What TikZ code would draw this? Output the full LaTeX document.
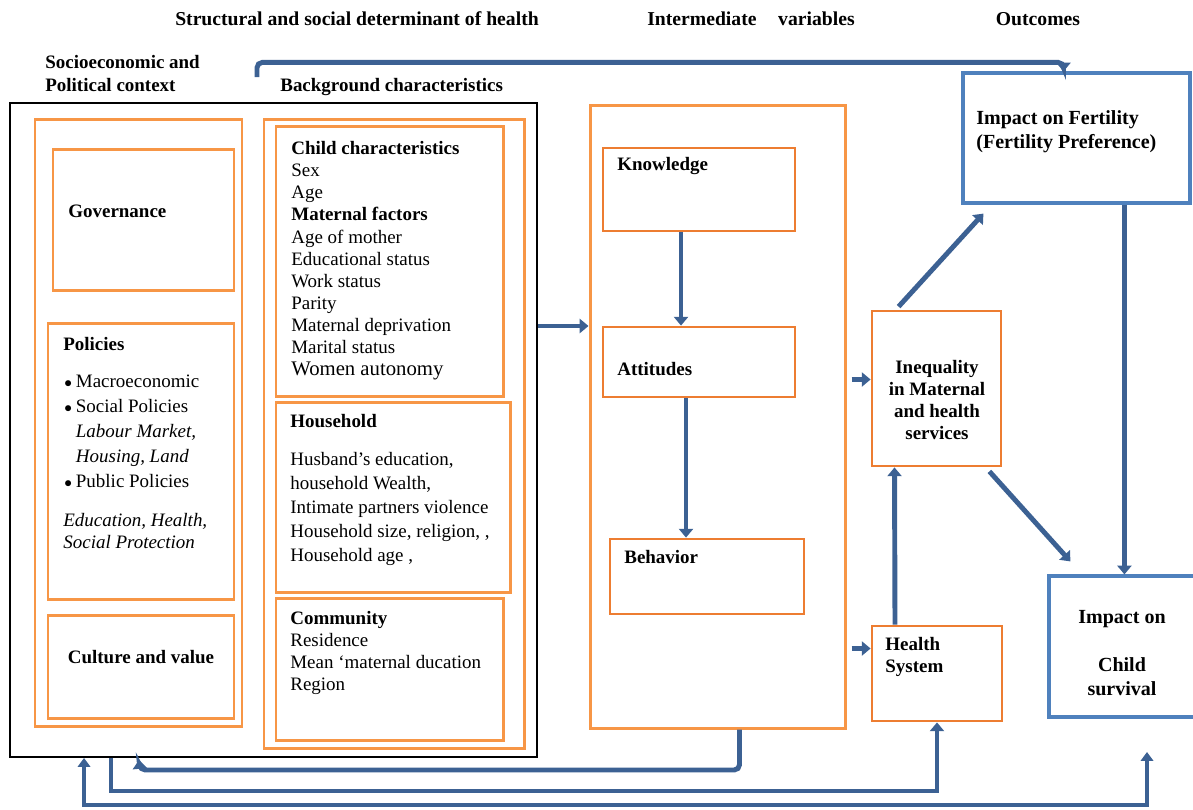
\documentclass[tikz,border=0pt]{standalone}
\usepackage{fontspec}
\setmainfont{Liberation Serif}
\usetikzlibrary{positioning,arrows.meta,fit,calc}
\definecolor{frameorange}{HTML}{F79646}
\definecolor{framedark}{HTML}{ED7D31}
\definecolor{frameblue}{HTML}{4F81BD}
\definecolor{linkblue}{HTML}{3C6193}
\newcommand{\bodyfont}{\fontsize{10.8}{12.6}\selectfont}
\newcommand{\dotitem}{\makebox[6.6pt][l]{\raisebox{0.2pt}{\scalebox{0.8}{$\bullet$}}}}

\begin{document}
\begin{tikzpicture}[
  x=0.02cm, y=-0.02cm,
  font=\bodyfont,
  obox/.style={draw=frameorange, line width=1.7pt, inner sep=0pt},
  dbox/.style={draw=framedark, line width=1.6pt, inner sep=0pt},
  bbox/.style={draw=frameblue, line width=1.8pt, inner sep=0pt},
  hd/.style={font=\bodyfont\bfseries, inner sep=0pt},
  txt/.style={align=left, anchor=north west, inner sep=0pt},
  arr/.style={draw=linkblue, line width=2.8pt, -{Triangle[length=5pt, width=8pt]}},
]
\useasboundingbox (0,0) rectangle (1193,809);

% Headings
\node[hd, font=\fontsize{11.2}{13}\selectfont\bfseries] (hstruct) at (357,19) {Structural and social determinant of health};
\node[hd, font=\fontsize{11.2}{13}\selectfont\bfseries] (hinter) at (751,19) {Intermediate\hspace{1.1em}variables};
\node[hd, font=\fontsize{11.2}{13}\selectfont\bfseries] (hout) at (1038,19) {Outcomes};
\node[hd, txt, font=\fontsize{10.8}{13}\selectfont\bfseries] (hsocio) at (45,55) {Socioeconomic and\\Political context};
\node[hd, anchor=west] (hback) at (280,87) {Background characteristics};

% Socioeconomic and political context
\node[draw, line width=1.1pt, inner sep=0pt, fit={(10,103) (537,757)}] (ctx) {};
\node[obox, fit={(35,119) (242,726)}] (lcol) {};
\node[obox, fit={(53,149) (234,290)}] (gov) {};
\node[hd, anchor=west] (govt) at (68,211) {Governance};
\node[obox, fit={(48,323) (234,599)}] (pol) {};
\node[hd, anchor=west] (polt) at (63,344) {Policies};
\node[txt, font=\fontsize{10.8}{14.2}\selectfont] (poll) at (64,375) {%
  \dotitem Macroeconomic\\
  \dotitem Social Policies\\
  \hphantom{\dotitem}\textit{Labour Market,}\\
  \hphantom{\dotitem}\textit{Housing, Land}\\
  \dotitem Public Policies};
\node[txt, font=\bodyfont\itshape] (pole) at (63,513) {Education, Health,\\Social Protection};
\node[obox, fit={(48,615) (234,718)}] (cul) {};
\node[hd] (cult) at (141,657) {Culture and value};

% Background characteristics
\node[obox, fit={(264,119) (524,748)}] (mcol) {};
\node[obox, fit={(276,126) (503,396)}] (chi) {};
\node[txt] (chit) at (291,141) {\textbf{Child characteristics}\\Sex\\Age\\\textbf{Maternal factors}\\
  Age of mother\\Educational status\\Work status\\Parity\\Maternal deprivation\\Marital status\\
  {\fontsize{11.8}{12.6}\selectfont Women autonomy}};
\node[obox, fit={(276,402) (510,592)}] (hh) {};
\node[hd, anchor=west] (hht) at (290,421) {Household};
\node[txt, font=\fontsize{10.8}{13.6}\selectfont] (hhl) at (290,452) {Husband’s education,\\household Wealth,\\
  Intimate partners violence\\Household size, religion, ,\\Household age ,};
\node[obox, fit={(276,598) (503,740)}] (com) {};
\node[txt] (comt) at (290,611) {\textbf{Community}\\Residence\\Mean ‘maternal ducation\\Region};

% Intermediate variables
\node[obox, fit={(590,105) (845,728)}] (inter) {};
\node[dbox, fit={(603,148) (795,231)}] (know) {};
\node[hd, anchor=west] (knowt) at (617,166) {Knowledge};
\node[dbox, fit={(603,327) (795,397)}] (att) {};
\node[hd, anchor=west] (attt) at (617,369) {Attitudes};
\node[dbox, fit={(610,539) (804,614)}] (beh) {};
\node[hd, anchor=west] (beht) at (624,557) {Behavior};

% Services
\node[dbox, fit={(872,311) (1001,466)}] (ineq) {};
\node[hd, align=center] (ineqt) at (937,400) {Inequality\\in Maternal\\and health\\services};
\node[dbox, fit={(872,626) (1002,721)}] (hs) {};
\node[hd, txt] (hst) at (885,637) {Health\\System};

% Outcomes
\node[bbox, fit={(963,73) (1190,203)}] (fert) {};
\node[hd, txt, font=\fontsize{11.4}{13.6}\selectfont\bfseries] (fertt) at (976,110) {Impact on Fertility\\(Fertility Preference)};
\node[bbox, fit={(1049,576) (1195,717)}] (child) {};
\node[hd, align=center, font=\fontsize{11.4}{13.6}\selectfont\bfseries] (childt) at (1122,653) {Impact on\\[13.6pt]Child\\survival};

% Links
\coordinate (topstart) at (257,77);
\coordinate (row) at (0,326);
\coordinate (loopend) at (1147,752);
\draw[arr, rounded corners=3pt] (topstart) |- ($(fert.north)+(-13,-9)$) -- ($(fert.north)+(-13,0)$);
\draw[arr] (ctx.east |- row) -- (inter.west |- row);
\draw[arr] ($(know.south)+(-18,0)$) -- ($(att.north)+(-18,0)$);
\draw[arr] ($(att.south)+(-13,0)$) -- ($(beh.north)+(-21,0)$);
\draw[arr] ($(inter.east |- ineq.west)+(5,-9)$) -- ($(ineq.west)+(0,-9)$);
\draw[arr] ($(inter.east |- hs.west)+(5,-25)$) -- ($(hs.west)+(0,-25)$);
\draw[arr] ($(hs.north)+(-42,0)$) -- ($(ineq.south)+(-42,0)$);
\draw[arr] ($(ineq.north west)+(28,-3)$) -- ($(fert.south west)+(22,9)$);
\draw[arr] ($(ineq.south east)+(-13,4)$) -- ($(child.north west)+(23,-13)$);
\draw[arr] ($(fert.south west)+(163,0)$) -- ($(child.north west)+(77,0)$);

% Feedback
\draw[arr, rounded corners=3pt] ($(inter.south)+(22,0)$) |- (140,770) -- ($(ctx.south west)+(130,2)$);
\draw[arr] ($(ctx.south west)+(102,0)$) |- (937,791) -- (hs.south);
\draw[draw=linkblue, line width=1.8pt, {Triangle[length=5pt, width=7pt]}-{Triangle[length=5pt, width=7pt]}]
  ($(ctx.south west)+(75,0)$) |- (1147,805) -- (loopend);
\end{tikzpicture}
\end{document}
